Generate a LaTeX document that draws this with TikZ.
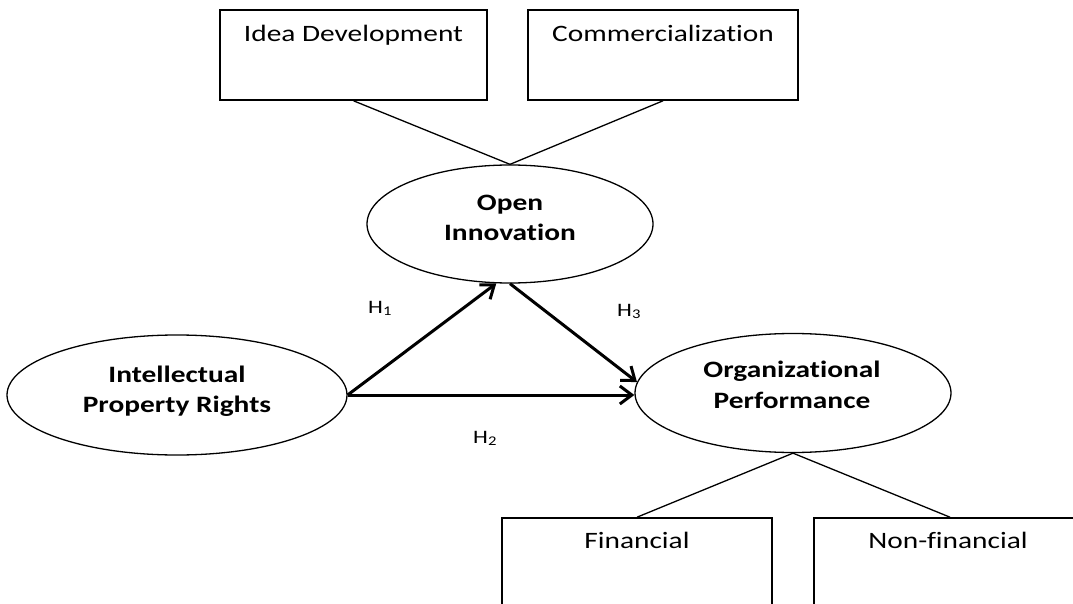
\documentclass[tikz,border=0pt]{standalone}
\usepackage{fontspec}
\setmainfont{Carlito}[FakeStretch=1.25, Ligatures=NoCommon]
\usetikzlibrary{shapes.geometric,arrows.meta}
\begin{document}
\begin{tikzpicture}[x=1pt,y=-1pt,
  boxnode/.style={draw, line width=1.6pt, inner sep=0pt},
  ell/.style={draw, ellipse, line width=1.3pt, inner sep=0pt},
  lbl/.style={font=\fontsize{23.5}{30.5}\selectfont, anchor=base, inner sep=0pt},
  blbl/.style={font=\fontsize{23.5}{30.5}\selectfont\bfseries, align=center, inner sep=0pt},
  hyp/.style={font=\fontsize{19}{22}\selectfont, anchor=base west, inner sep=0pt},
  arr/.style={line width=3pt, -{Straight Barb[length=12pt,width=18pt]}},
  link/.style={line width=1.3pt}]
\useasboundingbox (0,0) rectangle (1073,604);
\clip (0,0) rectangle (1073,604);

% boxes
\node[boxnode, minimum width=267pt, minimum height=90pt] (idea) at (353.5,55) {};
\node[boxnode, minimum width=270pt, minimum height=90pt] (comm) at (663,55) {};
\node[boxnode, minimum width=270pt, minimum height=122pt] (fin) at (637,579) {};
\node[boxnode, minimum width=272pt, minimum height=122pt] (nonfin) at (950,579) {};

\node[lbl] (ideat) at (353.5,42) {Idea Development};
\node[lbl] (commt) at (663,42) {Commercialization};
\node[lbl] (fint) at (637,548) {Financial};
\node[lbl] (nonfint) at (948,548) {Non-financial};

% ellipses
\node[ell, minimum width=340pt, minimum height=120pt] (ipr) at (177,395) {};
\node[ell, minimum width=286pt, minimum height=118pt] (oi) at (510,224) {};
\node[ell, minimum width=316pt, minimum height=119pt] (op) at (793,393) {};

\node[blbl] (iprt) at (177,391) {Intellectual\\Property Rights};
\node[blbl] (oit) at (510,218) {Open\\Innovation};
\node[blbl] (opt) at (792,385) {Organizational\\Performance};

% links
\draw[link] (idea.south) -- (oi.north);
\draw[link] (comm.south) -- (oi.north);
\draw[link] (op.south) -- (fin.north);
\draw[link] (op.south) -- (nonfin.north);

% arrows
\draw[arr] (ipr.east) -- (oi.257);
\draw[arr] (oi.south) -- (op.176);
\draw[arr] (ipr.east) -- (ipr.east -| op.west);

% hypotheses
\node[hyp] (h1) at (368,313) {H\textsubscript{1}};
\node[hyp] (h3) at (617,316) {H\textsubscript{3}};
\node[hyp] (h2) at (473,443) {H\textsubscript{2}};
\end{tikzpicture}
\end{document}
